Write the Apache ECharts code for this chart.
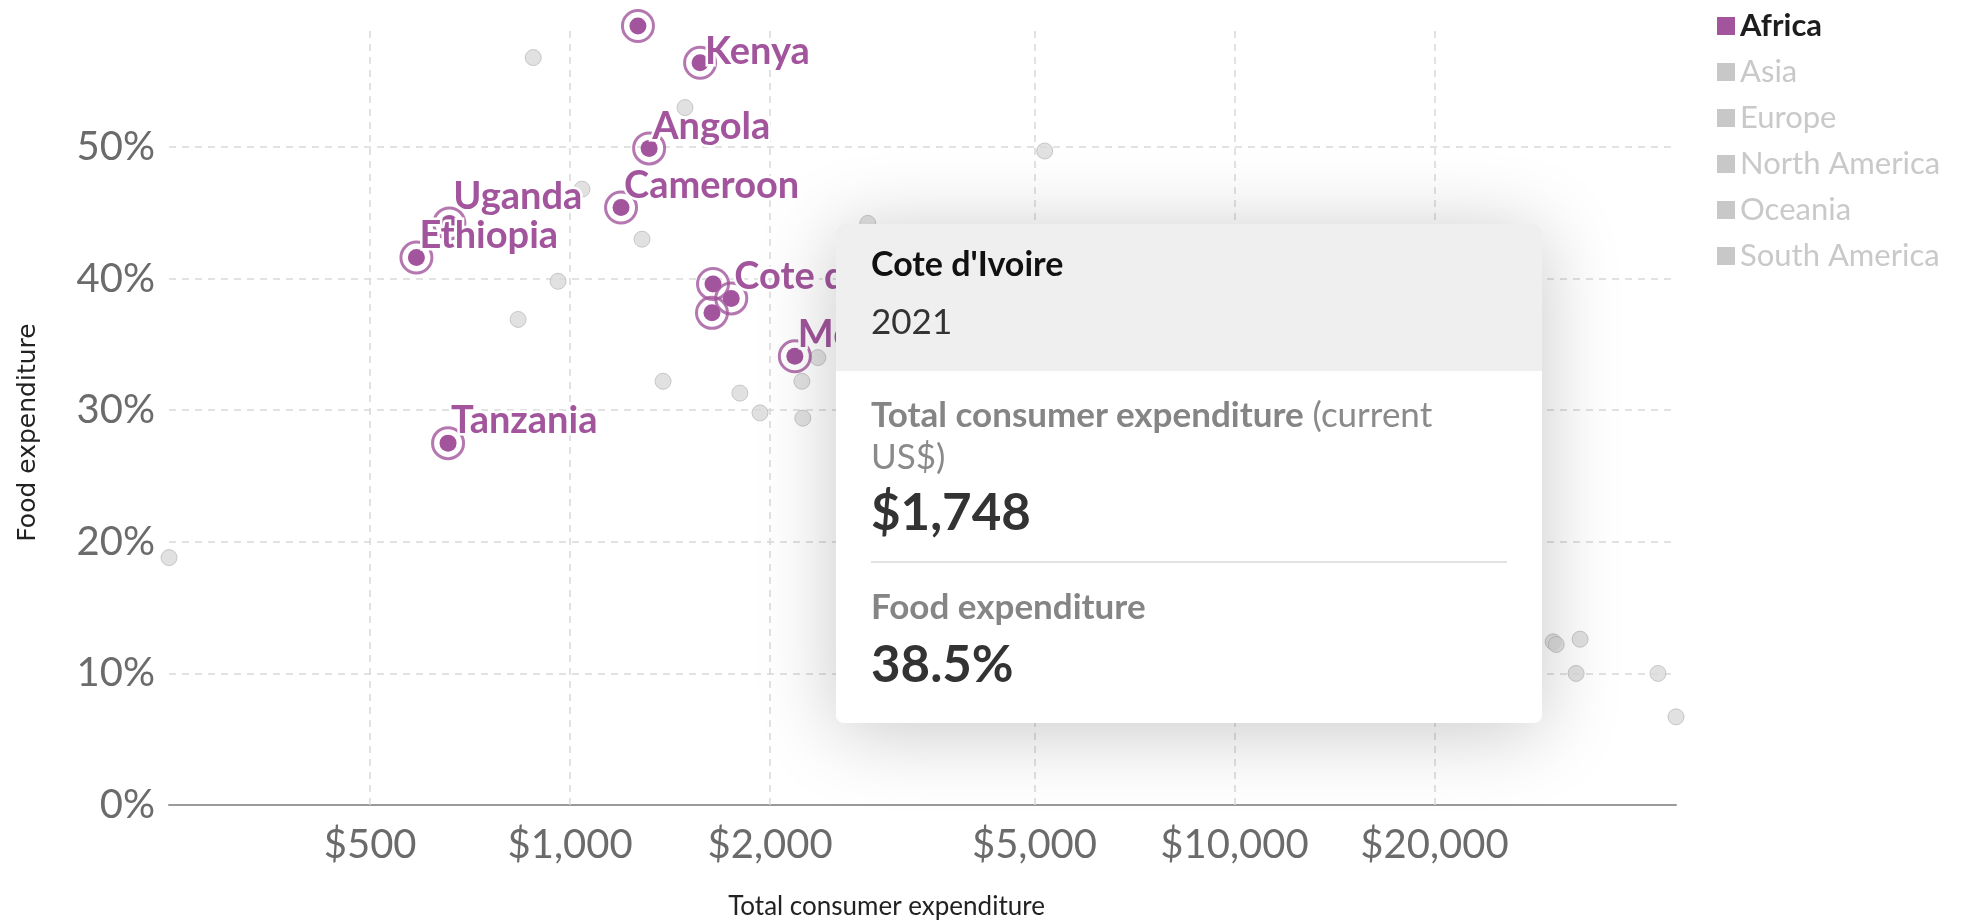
<!DOCTYPE html>
<html>
<head>
<meta charset="utf-8">
<script src="https://cdn.jsdelivr.net/npm/echarts@6/dist/echarts.min.js"></script>
<style>
  html, body { margin: 0; padding: 0; background: #fff; }
  #main { width: 1987px; height: 921px; }
</style>
</head>
<body>
<div id="main"></div>
<script>
// values: consumer spend per person (US$) and food share (%)
const africaNames = ['Nigeria', 'Kenya', 'Angola', 'Cameroon', 'Uganda', 'Ethiopia', 'Ghana', "Cote d'Ivoire", 'Senegal', 'Morocco', 'Tanzania'];
const africaSpend = [1265, 1569, 1315, 1193, 658, 587, 1641, 1748, 1635, 2179, 655];
const africaFood = [59.2, 56.4, 49.9, 45.4, 44.2, 41.6, 39.6, 38.5, 37.4, 34.1, 27.5];
const labelled = ['Kenya', 'Angola', 'Cameroon', 'Uganda', 'Ethiopia', "Cote d'Ivoire", 'Morocco', 'Tanzania'];

const asiaSpend = [880, 1489, 1042, 1283, 959, 835, 1380, 1801, 2233, 2360, 2806, 5180, 249];
const asiaFood = [56.8, 53.0, 46.8, 43.0, 39.8, 36.9, 32.2, 31.3, 32.2, 34.0, 44.2, 49.7, 18.8];
const europeSpend = [30180, 33130, 32680];
const europeFood = [12.4, 12.6, 10.0];
const northAmericaSpend = [43410, 46200];
const northAmericaFood = [10.0, 6.7];
const oceaniaSpend = [30500];
const oceaniaFood = [12.2];
const southAmericaSpend = [1931, 2240];
const southAmericaFood = [29.8, 29.4];

const continents = ['Africa', 'Asia', 'Europe', 'North America', 'Oceania', 'South America'];
const xTicks = [500, 1000, 2000, 5000, 10000, 20000];
const year = '2021';
const focusCountry = "Cote d'Ivoire";

const PURPLE = '#a2559c';
const GREY = '#dadada';

var myChart = echarts.init(document.getElementById('main'));

function pairs(xs, ys) {
  return xs.map((x, i) => [x, ys[i]]);
}
function money(v) {
  return '$' + Math.round(v).toLocaleString('en-US');
}

const greyData = {
  'Asia': pairs(asiaSpend, asiaFood),
  'Europe': pairs(europeSpend, europeFood),
  'North America': pairs(northAmericaSpend, northAmericaFood),
  'Oceania': pairs(oceaniaSpend, oceaniaFood),
  'South America': pairs(southAmericaSpend, southAmericaFood)
};

const series = continents.slice(1).map((c, k) => {
  const s = {
    name: c,
    type: 'scatter',
    data: greyData[c],
    symbolSize: 16,
    silent: true,
    itemStyle: { color: GREY, opacity: 0.8, borderColor: '#bcbcbc', borderWidth: 1 }
  };
  if (k === 0) {
    // dashed vertical gridlines + dollar tick labels on the log axis
    s.markLine = {
      silent: true,
      z: 1,
      symbol: 'none',
      animation: false,
      lineStyle: { color: '#d9d9d9', type: [7, 6], width: 1.5 },
      label: {
        position: 'start',
        distance: 20,
        formatter: p => money(p.value),
        fontFamily: 'Lato',
        fontSize: 40,
        color: '#6b6b6b'
      },
      emphasis: { disabled: true },
      data: xTicks.map(v => ({ xAxis: v }))
    };
  }
  return s;
});

// label nudges (px from the dot box corner)
function labelPos(n) {
  if (n === 'Kenya') return [13.5, -2.5];
  if (n === 'Uganda') return [12.5, -18.5];
  return [11.5, -13.5];
}

const africaData = africaNames.map((n, i) => ({
  name: n,
  value: [africaSpend[i], africaFood[i]],
  label: { show: labelled.indexOf(n) >= 0, position: labelPos(n) }
}));

// outer rings
series.push({
  name: 'Africa ring',
  type: 'scatter',
  data: africaData.map(d => d.value),
  symbolSize: 31,
  silent: true,
  itemStyle: { color: 'rgba(0,0,0,0)', borderColor: PURPLE, borderWidth: 3 }
});
// dots with labels
series.push({
  name: 'Africa',
  type: 'scatter',
  data: africaData,
  symbolSize: 17,
  itemStyle: { color: PURPLE, opacity: 1 },
  label: {
    formatter: '{b}',
    color: PURPLE,
    fontFamily: 'Lato',
    fontWeight: 'bold',
    fontSize: 38,
    align: 'left',
    verticalAlign: 'middle',
    textBorderColor: '#fff',
    textBorderWidth: 5
  },
  emphasis: { disabled: true }
});

const option = {
  animation: false,
  grid: { left: 169, right: 311, top: 26, bottom: 116, containLabel: false, outerBoundsMode: 'none' },
  xAxis: {
    type: 'log',
    min: 'dataMin',
    max: 'dataMax',
    name: 'Total consumer expenditure',
    nameLocation: 'middle',
    nameGap: 89,
    nameTextStyle: { fontFamily: 'Lato', fontSize: 26, color: '#222', padding: [0, 72, 0, 0] },
    axisLine: { show: true, lineStyle: { color: '#9a9a9a', width: 2 } },
    axisTick: { show: false },
    axisLabel: { show: false },
    splitLine: { show: false },
    minorTick: { show: false },
    minorSplitLine: { show: false }
  },
  yAxis: {
    type: 'value',
    min: 0,
    max: 'dataMax',
    interval: 10,
    name: 'Food expenditure',
    nameLocation: 'middle',
    nameGap: 128,
    nameTextStyle: { fontFamily: 'DejaVu Sans', fontSize: 25, color: '#222', padding: [0, 34, 0, 0] },
    axisLine: { show: false },
    axisTick: { show: false },
    axisLabel: {
      formatter: '{value}%',
      fontFamily: 'Lato',
      fontSize: 40,
      color: '#6b6b6b',
      margin: 14,
      showMaxLabel: false
    },
    splitLine: {
      show: true,
      showMaxLine: false,
      lineStyle: { color: '#d9d9d9', type: [7, 6], width: 1.5 }
    }
  },
  legend: {
    orient: 'vertical',
    left: 1712,
    top: 3,
    itemWidth: 18,
    itemHeight: 18,
    itemGap: 10,
    icon: 'rect',
    selectedMode: false,
    textStyle: { fontFamily: 'Lato', fontSize: 31, lineHeight: 36, color: '#c9c9c9' },
    data: continents.map(c => c === 'Africa'
      ? { name: c, itemStyle: { color: PURPLE, borderWidth: 0, opacity: 1 }, textStyle: { color: '#1d1d1d', fontWeight: 'bold' } }
      : { name: c, itemStyle: { color: '#c8c8c8', borderWidth: 0, opacity: 1 } })
  },
  tooltip: {
    trigger: 'item',
    triggerOn: 'none',
    alwaysShowContent: true,
    transitionDuration: 0,
    position: [836, 224],
    padding: 0,
    borderWidth: 0,
    borderRadius: 8,
    backgroundColor: '#fff',
    extraCssText: 'box-shadow: 0 8px 80px rgba(0,0,0,0.22); overflow: hidden;',
    formatter: p => `
      <div style="width:706px;height:499px;font-family:Lato,sans-serif;white-space:normal;">
        <div style="background:#efefef;height:147px;padding:0 35px;box-sizing:border-box;overflow:hidden;">
          <div style="padding-top:19px;font-size:34px;line-height:40px;font-weight:bold;color:#111;">${p.name}</div>
          <div style="margin-top:19px;font-size:35px;line-height:36px;color:#333;">${year}</div>
        </div>
        <div style="padding:0 35px;">
          <div style="padding-top:21px;font-size:35px;line-height:42px;color:#8a8a8a;"><b style="color:#858585;">Total consumer expenditure</b> (current<br>US$)</div>
          <div style="margin-top:6.5px;font-size:51px;line-height:56px;font-weight:bold;color:#333;">${money(p.value[0])}</div>
          <div style="margin-top:22.5px;border-top:2px solid #e2e2e2;"></div>
          <div style="margin-top:21px;font-size:35px;line-height:42px;font-weight:bold;color:#858585;">Food expenditure</div>
          <div style="margin-top:8.5px;font-size:51px;line-height:56px;font-weight:bold;color:#333;">${p.value[1].toFixed(1)}%</div>
        </div>
      </div>`
  },
  series: series
};

myChart.setOption(option);
myChart.dispatchAction({
  type: 'showTip',
  seriesIndex: series.length - 1,
  dataIndex: africaNames.indexOf(focusCountry)
});
</script>
</body>
</html>
